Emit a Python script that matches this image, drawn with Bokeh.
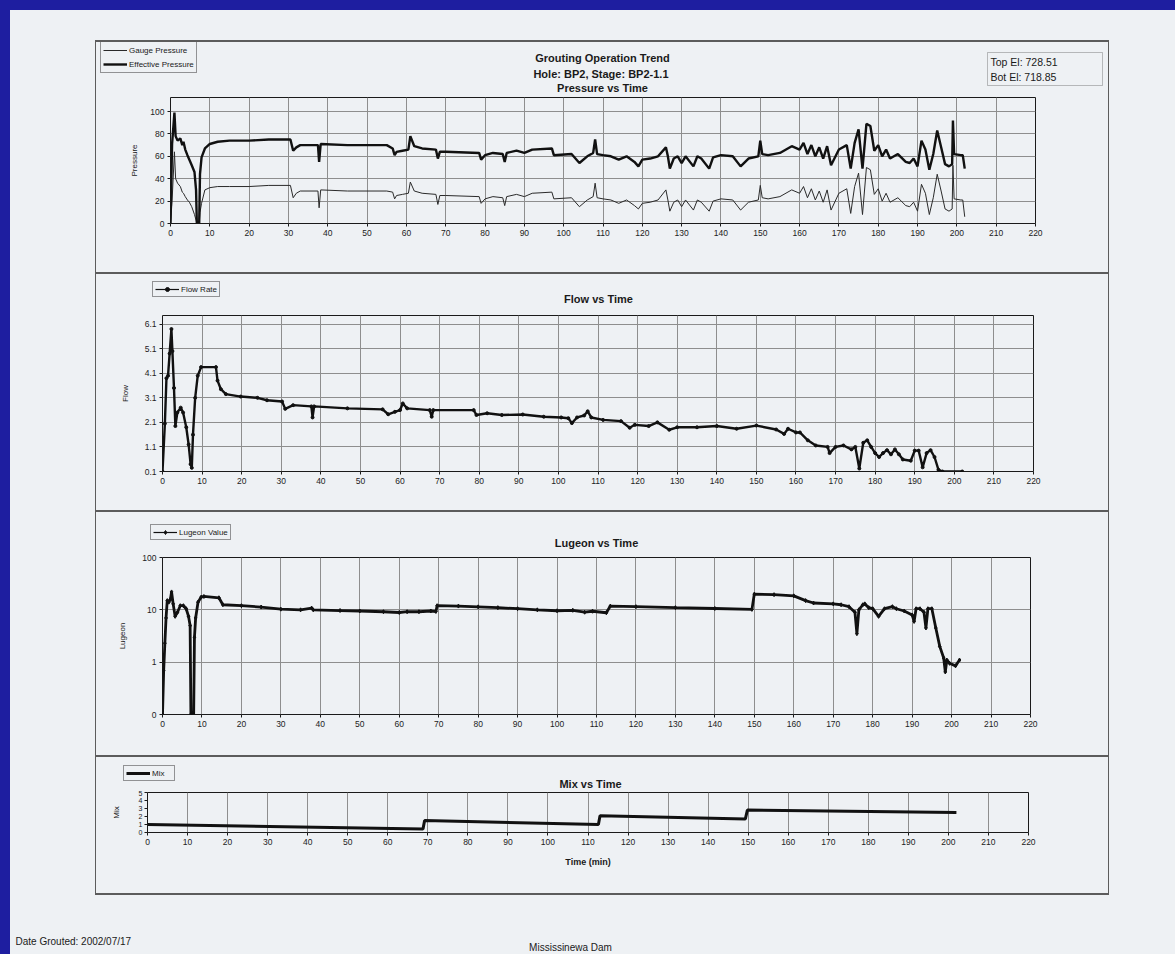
import math
from bokeh.plotting import figure
from bokeh.models import (Range1d, FixedTicker, Label, Legend, LegendItem, BoxAnnotation,
                          CustomJSTickFormatter, Spacer, Div, GlobalInlineStyleSheet)
from bokeh.layouts import column, row
from bokeh.embed import file_html
from bokeh.resources import INLINE

time_ticks = [0, 10, 20, 30, 40, 50, 60, 70, 80, 90, 100, 110,
              120, 130, 140, 150, 160, 170, 180, 190, 200, 210, 220]

pressure_ticks = [0, 20, 40, 60, 80, 100]
pressure_time = [0, 0.4, 1.0, 1.3, 1.8, 2.5, 3.0, 3.3, 3.75, 4.3,
                 4.8, 5.4, 6.1, 6.5, 6.7, 7.3, 7.5, 7.9, 8.75, 10,
                 12, 15, 20, 25, 30.5, 31.2, 32, 33, 37.5, 37.8,
                 38.2, 45, 55, 56.5, 57, 57.5, 59, 60.5, 61, 62,
                 64, 67.5, 68, 68.5, 70, 78.5, 79, 80, 82, 84.5,
                 85, 85.5, 88, 90, 92, 97, 97.5, 102, 104, 106,
                 107.5, 108, 108.5, 110, 112, 114, 116, 118, 119, 120,
                 122, 124, 126, 126.5, 127, 128, 129, 130, 131, 133,
                 134, 135, 137, 138, 140, 143, 145, 147, 149.5, 150,
                 150.5, 152, 155, 158, 160, 161, 162, 163, 164, 165,
                 166, 167, 168, 170, 172, 173, 174, 175, 176, 177,
                 178, 179, 180, 181, 182, 183, 185, 187, 188, 189,
                 190, 191, 192, 193, 194, 195, 196, 197, 198, 198.8,
                 199, 199.3, 201, 201.5, 202]
effective_pressure = [0, 71, 99, 78, 74, 76, 70, 73, 66, 61,
                      57, 52, 46, 30, 0, 0, 44, 59, 67, 71,
                      73, 74, 74, 75, 75, 65, 68, 70, 70, 55,
                      71, 70, 70, 67, 61, 64, 65, 66, 78, 69,
                      67, 66, 58, 64, 64, 63, 57, 61, 63, 62,
                      55, 63, 65, 63, 66, 67, 61, 62, 54, 60,
                      63, 75, 62, 61, 60, 57, 60, 55, 51, 57,
                      58, 60, 68, 60, 49, 58, 60, 54, 60, 51,
                      60, 58, 49, 59, 61, 60, 51, 58, 60, 74,
                      62, 61, 63, 69, 66, 72, 62, 70, 60, 68,
                      58, 69, 52, 66, 70, 49, 72, 84, 49, 89,
                      87, 65, 70, 60, 66, 58, 62, 55, 54, 58,
                      51, 74, 66, 48, 62, 83, 68, 53, 51, 53,
                      92, 62, 61, 61, 49]
gauge_pressure = [0, 20, 64, 40, 36, 33, 28, 27, 24, 21,
                  19, 15, 8, 3, 0, 0, 10, 18, 30, 32,
                  33, 33, 33, 34, 34, 23, 27, 29, 29, 14,
                  30, 29, 29, 28, 22, 25, 26, 27, 37, 29,
                  27, 26, 17, 25, 25, 24, 18, 22, 24, 23,
                  16, 24, 26, 24, 27, 28, 22, 23, 15, 21,
                  24, 36, 23, 22, 21, 18, 21, 16, 13, 18,
                  19, 21, 30, 21, 11, 19, 21, 15, 21, 12,
                  21, 19, 11, 20, 22, 21, 12, 19, 21, 34,
                  23, 22, 24, 30, 27, 33, 23, 31, 21, 29,
                  19, 30, 12, 27, 31, 9, 33, 45, 8, 50,
                  48, 26, 31, 20, 27, 19, 23, 16, 15, 19,
                  11, 35, 27, 8, 23, 44, 29, 13, 11, 13,
                  52, 22, 21, 21, 6]

flow_ticks = [0.1, 1.1, 2.1, 3.1, 4.1, 5.1, 6.1]
flow_time = [0, 0.6, 1.0, 1.4, 1.8, 2.25, 2.5, 2.9, 3.25, 3.75,
             4.6, 5.2, 6.0, 6.6, 7.1, 7.4, 7.7, 8.25, 8.9, 9.75,
             13.5, 13.9, 14.75, 16, 19.75, 24, 26.4, 30.2, 31, 33,
             37.6, 37.9, 38.3, 46.7, 55.6, 57, 58.7, 60, 60.7, 61.8,
             67.5, 68, 68.4, 78.6, 79.3, 82, 85.7, 91, 96.3, 100.7,
             102.5, 103.4, 104.7, 106.5, 107.4, 108.3, 111.3, 115.8, 118, 119.3,
             122.8, 125, 128, 130, 135, 140, 145, 150, 155, 157,
             158, 160, 161, 163, 165, 168, 168.5, 170, 172, 174,
             175, 176, 177, 178, 179, 180, 181, 182, 183, 184,
             185, 186, 187, 189, 190, 191, 192, 193, 194, 195,
             196, 197, 202]
flow_rate = [0.1, 2.05, 3.9, 4.0, 4.9, 5.9, 5.0, 3.5, 1.95, 2.5,
             2.7, 2.5, 1.9, 1.2, 0.4, 0.25, 1.6, 3.1, 4.0, 4.35,
             4.35, 3.8, 3.45, 3.25, 3.15, 3.1, 3.0, 2.95, 2.65, 2.8,
             2.75, 2.3, 2.75, 2.67, 2.63, 2.43, 2.53, 2.6, 2.87, 2.67,
             2.6, 2.33, 2.6, 2.6, 2.4, 2.47, 2.4, 2.42, 2.33, 2.3,
             2.27, 2.07, 2.3, 2.38, 2.55, 2.3, 2.2, 2.15, 1.88, 2.0,
             1.95, 2.1, 1.8, 1.9, 1.9, 1.95, 1.84, 1.97, 1.81, 1.63,
             1.84, 1.69, 1.69, 1.37, 1.16, 1.1, 0.85, 1.1, 1.16, 1.0,
             1.1, 0.22, 1.27, 1.37, 1.1, 0.85, 0.69, 0.85, 0.97, 0.8,
             1.0, 0.8, 0.59, 0.54, 0.95, 0.95, 0.27, 0.85, 0.97, 0.69,
             0.17, 0.1, 0.1]

lugeon_ticks = [0.1, 1, 10, 100]
lugeon_time = [0, 0.3, 0.6, 0.9, 1.2, 1.6, 2.0, 2.3, 2.7, 3.2,
               3.8, 4.5, 5.3, 6.0, 6.6, 7.0, 7.2, 7.9, 8.1, 8.4,
               9.0, 9.8, 10.5, 14.3, 15.3, 20, 25, 30, 35, 37.8,
               38.2, 45, 50, 56, 60, 62, 65, 68, 69.3, 69.6,
               75, 80, 85, 90, 95, 100, 104, 107, 109, 112.5,
               113.5, 120, 130, 140, 149.4, 150, 155, 160, 163, 165,
               170, 172, 174, 175.5, 176, 176.5, 177.5, 178, 179, 180,
               181.5, 183, 185, 186, 188, 190, 190.5, 191, 192, 193,
               193.5, 194, 195, 196, 197, 198, 198.4, 198.8, 199.5, 201,
               202]
lugeon_value = [0.1, 0.7, 2.3, 7, 15, 14, 16, 22, 13, 7.5,
                9, 12, 12, 10.5, 7.5, 5, 0.1, 0.1, 3, 7,
                14, 17.5, 18, 17, 12.5, 12, 11.3, 10.3, 10, 10.8,
                10, 9.7, 9.5, 9.2, 8.9, 9.2, 9.2, 9.5, 9.3, 12,
                11.8, 11.4, 11, 10.5, 10, 9.6, 9.8, 9.0, 9.4, 8.8,
                11.8, 11.5, 11, 10.6, 10.2, 20, 19.5, 18.5, 15, 13.5,
                13, 12.5, 11.5, 9, 3.5, 10, 12.5, 13, 11, 10.5,
                7.5, 10.5, 11.5, 10.5, 9.5, 8, 6, 10.5, 10.5, 9,
                4.5, 10.5, 10.5, 4.5, 2, 1.2, 0.65, 1.1, 0.95, 0.85,
                1.1]

mix_ticks = [0, 1, 2, 3, 4, 5]
mix_time = [0, 68.8, 69.2, 112.6, 113.0, 149.3, 149.8, 202]
mix_value = [1.0, 0.45, 1.5, 1.0, 2.1, 1.7, 2.8, 2.5]

report_title = ["Grouting Operation Trend", "Hole: BP2,  Stage: BP2-1.1", "Pressure vs Time"]
elevation_lines = ["Top El: 728.51", "Bot El: 718.85"]
footer_left = "Date Grouted: 2002/07/17"
footer_center = "Mississinewa Dam"

# ---------------- styling ----------------
PAPER = "#eef1f4"
BLUE = "#1e1ea0"
FONT = "Liberation Sans"
INK = "#1a1a1a"
GRID = "#8e8e8e"
RULE = "#5c5c5c"
PANEL_W = 1012


def chart(height, left, right, top, bottom, y_range, y_ticks, y_label, label_standoff, log=False):
    kw = dict(width=PANEL_W, height=height, min_border_left=left, min_border_right=right,
              min_border_top=top, min_border_bottom=bottom, x_range=Range1d(0, 220),
              y_range=y_range, output_backend="svg", toolbar_location=None,
              background_fill_color=PAPER, border_fill_color=PAPER,
              outline_line_color=INK, outline_line_width=1, frame_align=False)
    if log:
        kw["y_axis_type"] = "log"
    p = figure(**kw)
    p.xaxis.ticker = FixedTicker(ticks=time_ticks)
    p.xgrid.ticker = FixedTicker(ticks=time_ticks)
    p.yaxis.ticker = FixedTicker(ticks=y_ticks)
    p.ygrid.ticker = FixedTicker(ticks=y_ticks)
    for ax in (p.xaxis[0], p.yaxis[0]):
        ax.axis_line_color = None
        ax.major_tick_line_color = INK
        ax.major_tick_out = 3
        ax.major_tick_in = 0
        ax.minor_tick_line_color = None
        ax.major_label_text_font = FONT
        ax.major_label_text_font_size = "8.5px"
        ax.major_label_text_color = "#222222"
        ax.major_label_standoff = 3
    p.yaxis.axis_label = y_label
    p.yaxis.axis_label_text_font = FONT
    p.yaxis.axis_label_text_font_size = "8px"
    p.yaxis.axis_label_text_font_style = "normal"
    p.yaxis.axis_label_text_color = INK
    p.yaxis.axis_label_standoff = label_standoff
    p.grid.grid_line_color = GRID
    p.grid.grid_line_width = 1
    return p


def header(height):
    # the "off" range keeps the legend's sample renderers out of sight
    h = figure(width=PANEL_W, height=height, x_range=Range1d(0, 220), y_range=Range1d(0, 1),
               extra_y_ranges={"off": Range1d(1000, 2000)},
               min_border=0, output_backend="svg", toolbar_location=None,
               x_axis_location=None, y_axis_location=None, frame_align=False,
               background_fill_color=PAPER, border_fill_color=PAPER, outline_line_color=None)
    h.grid.visible = False
    return h


def text(p, x, y, s, size="11px", bold=False, align="center", baseline="middle"):
    p.add_layout(Label(x=x, y=y, x_units="screen", y_units="screen", text=s,
                       text_font=FONT, text_font_size=size,
                       text_font_style="bold" if bold else "normal",
                       text_align=align, text_baseline=baseline, text_color=INK))


def legend(p, items, x, y, glyph_h=10):
    lg = Legend(items=items, location=(x, y), orientation="vertical",
                label_text_font=FONT, label_text_font_size="8px", label_text_color=INK,
                glyph_width=24, glyph_height=glyph_h, label_height=glyph_h,
                label_standoff=2, spacing=2, padding=2, margin=0,
                border_line_color="#333333", border_line_width=1,
                background_fill_color=PAPER, background_fill_alpha=1.0)
    p.add_layout(lg)


def hrule():
    return Div(text="", width=PANEL_W, height=2, margin=0, styles={"background-color": RULE})


# ---- Pressure panel ----
h1 = header(51)
lg_g = h1.line(pressure_time, gauge_pressure, y_range_name="off", line_color="#2a2a2a", line_width=1)
lg_e = h1.line(pressure_time, effective_pressure, y_range_name="off", line_color="#111111", line_width=2.4)
legend(h1, [LegendItem(label="Gauge Pressure", renderers=[lg_g]),
            LegendItem(label="Effective Pressure", renderers=[lg_e])], 4, 20, glyph_h=12)
for txt, yy in zip(report_title, [36, 20, 6]):
    text(h1, 506, yy, txt, size="11px", bold=True)
h1.add_layout(BoxAnnotation(left=891, right=1006, bottom=8, top=41,
                            left_units="screen", right_units="screen",
                            bottom_units="screen", top_units="screen",
                            fill_color=PAPER, fill_alpha=1.0,
                            line_color="#333333", line_width=1))
for txt, yy in zip(elevation_lines, [32, 17]):
    text(h1, 894, yy, txt, size="10.5px", align="left")

p1 = chart(179, 74, 73, 4, 49, Range1d(0, 112.5), pressure_ticks, "Pressure", 8)
p1.line(pressure_time, gauge_pressure, line_color="#2a2a2a", line_width=1)
p1.line(pressure_time, effective_pressure, line_color="#111111", line_width=2.4)

# ---- Flow panel ----
h2 = header(37)
lf = h2.line(flow_time, flow_rate, y_range_name="off", line_color="#111111", line_width=1.2)
lfs = h2.scatter(flow_time, flow_rate, y_range_name="off", size=3, marker="circle", color="#111111")
legend(h2, [LegendItem(label="Flow Rate", renderers=[lf, lfs])], 56, 14)
text(h2, 502, 13, "Flow vs Time", size="11px", bold=True)

p2 = chart(199, 66, 75, 4, 39, Range1d(0.1, 6.45), flow_ticks, "Flow", 12)
p2.line(flow_time, flow_rate, line_color="#111111", line_width=2.4)
p2.scatter(flow_time, flow_rate, size=3, marker="circle", color="#111111")

# ---- Lugeon panel ----
h3 = header(41)
ll = h3.line(lugeon_time, lugeon_value, y_range_name="off", line_color="#111111", line_width=1.2)
lls = h3.scatter(lugeon_time, lugeon_value, y_range_name="off", size=5, marker="diamond", color="#111111")
legend(h3, [LegendItem(label="Lugeon Value", renderers=[ll, lls])], 54, 13)
text(h3, 500, 11, "Lugeon vs Time", size="11px", bold=True)

p3 = chart(202, 66, 78, 4, 41, Range1d(0.1, 100), lugeon_ticks, "Lugeon", 12, log=True)
p3.yaxis.formatter = CustomJSTickFormatter(code="return tick < 0.5 ? '0' : tick.toFixed(0);")
p3.line(lugeon_time, lugeon_value, line_color="#111111", line_width=2.8)
p3.scatter(lugeon_time, lugeon_value, size=4, marker="diamond", color="#111111")

# ---- Mix panel ----
h4 = header(33)
lm = h4.line(mix_time, mix_value, y_range_name="off", line_color="#111111", line_width=3)
legend(h4, [LegendItem(label="Mix", renderers=[lm])], 27, 9)
text(h4, 494, 7, "Mix vs Time", size="11px", bold=True)

p4 = chart(103, 51, 80, 2, 61, Range1d(0, 5), mix_ticks, "Mix", 15)
p4.ygrid.grid_line_color = None
p4.yaxis.major_label_text_font_size = "7px"
p4.yaxis.major_label_standoff = 2
p4.xaxis.axis_label = "Time (min)"
p4.xaxis.axis_label_text_font = FONT
p4.xaxis.axis_label_text_font_size = "9px"
p4.xaxis.axis_label_text_font_style = "bold"
p4.xaxis.axis_label_text_color = INK
p4.xaxis.axis_label_standoff = 9
p4.line(mix_time, mix_value, line_color="#111111", line_width=3)

# ---- footer ----
foot = figure(width=1165, height=59, x_range=Range1d(0, 1), y_range=Range1d(0, 1),
              min_border=0, output_backend="svg", toolbar_location=None,
              x_axis_location=None, y_axis_location=None, frame_align=False,
              background_fill_color=PAPER, border_fill_color=PAPER, outline_line_color=None)
foot.grid.visible = False
text(foot, 5, 13, footer_left, size="10px", align="left")
text(foot, 560, 7, footer_center, size="10px")

panels = column(hrule(), h1, p1, hrule(), h2, p2, hrule(), h3, p3, hrule(), h4, p4, hrule(),
                spacing=0)


def vrule():
    return Div(text="", width=1, height=855, margin=0, styles={"background-color": RULE})


page_css = GlobalInlineStyleSheet(
    css="html, body { margin: 0; padding: 0; background-color: %s; overflow: hidden; }" % BLUE)

root = column(
    Spacer(width=1165, height=30),
    row(Spacer(width=85, height=855), vrule(), panels, vrule(), spacing=0),
    foot,
    spacing=0,
    margin=(10, 0, 0, 10),
    styles={"background-color": PAPER},
    stylesheets=[page_css],
)

open("out.html", "w").write(file_html(root, INLINE))
